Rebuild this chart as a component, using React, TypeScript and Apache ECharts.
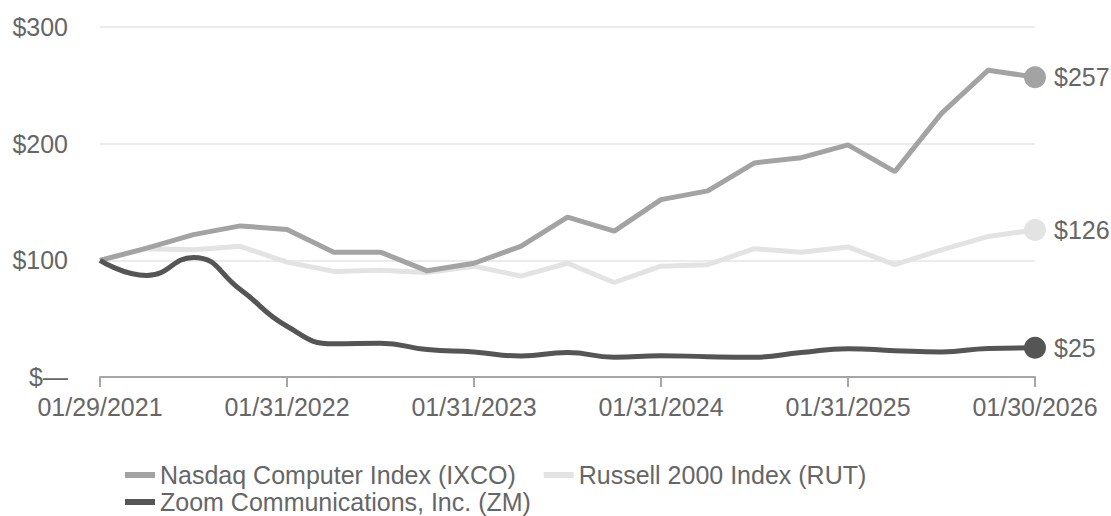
import React, { useEffect, useRef } from "react";
import * as echarts from "echarts";

const categories = [
  "01/29/2021", "04/30/2021", "07/30/2021", "10/29/2021",
  "01/31/2022", "04/29/2022", "07/29/2022", "10/31/2022",
  "01/31/2023", "04/28/2023", "07/31/2023", "10/31/2023",
  "01/31/2024", "04/30/2024", "07/31/2024", "10/31/2024",
  "01/31/2025", "04/30/2025", "07/31/2025", "10/31/2025",
  "01/30/2026",
];
const labelDates = ["01/29/2021", "01/31/2022", "01/31/2023", "01/31/2024", "01/31/2025", "01/30/2026"];

const nasdaq = [100, 110.5, 122, 129.5, 126.5, 107, 107, 91, 97.5, 112, 137, 125, 152, 159.5, 183.5, 188, 199, 176, 226, 263, 257];
const russell = [100, 110, 109, 112, 98.5, 90.5, 91.5, 89.5, 95, 86.5, 97.5, 81, 95, 96.3, 110, 107, 111.5, 96.3, 109, 120.5, 126];
const zoom = [100, 87, 102.5, 75, 43.5, 28.5, 29, 23.5, 21.5, 18, 21, 17, 18.3, 17.4, 17, 21, 24.3, 22.6, 21.4, 24.5, 25];

const yTicks = [0, 100, 200, 300];
const yTickLabels = ["$—", "$100", "$200", "$300"];

const NAMES = ["Nasdaq Computer Index (IXCO)", "Russell 2000 Index (RUT)", "Zoom Communications, Inc. (ZM)"];
const COLORS = ["#a3a3a3", "#e3e3e3", "#555555"];

const FONT = "'Liberation Sans', Arial, Helvetica, sans-serif";
const TEXT = "#666666";

function buildData(values: number[], color: string) {
  return values.map((v, i) => {
    if (i === values.length - 1) {
      return {
        value: v,
        symbol: "circle",
        symbolSize: 22,
        itemStyle: { color },
        label: {
          show: true,
          position: "right",
          distance: 8,
          formatter: "$" + Math.round(v),
          fontSize: 25,
          fontFamily: FONT,
          color: TEXT,
        },
      };
    }
    return { value: v, symbol: "none" };
  });
}

export default function App() {
  const ref = useRef<HTMLDivElement>(null);
  useEffect(() => {
    document.body.style.margin = "0";
    if (!ref.current) return;
    const chart = echarts.init(ref.current, undefined, { renderer: "svg" });
    const series = [
      { name: NAMES[1], values: russell, color: COLORS[1], smooth: false, z: 2 },
      { name: NAMES[0], values: nasdaq, color: COLORS[0], smooth: false, z: 3 },
      { name: NAMES[2], values: zoom, color: COLORS[2], smooth: true, z: 4 },
    ].map((s) => ({
      name: s.name,
      type: "line",
      smooth: s.smooth,
      z: s.z,
      showSymbol: true,
      lineStyle: { color: s.color, width: 5 },
      itemStyle: { color: s.color },
      data: buildData(s.values, s.color),
    }));

    const legendText = { fontSize: 25, color: TEXT, fontFamily: FONT, lineHeight: 26 };
    chart.setOption({
      animation: false,
      backgroundColor: "#ffffff",
      color: COLORS,
      textStyle: { fontFamily: FONT },
      grid: { left: 100, right: 76, top: 27, bottom: 139, containLabel: false },
      legend: [
        {
          data: [NAMES[0], NAMES[1]],
          left: 125,
          top: 462,
          padding: 0,
          icon: "rect",
          itemWidth: 30,
          itemHeight: 6,
          itemGap: 28,
          textStyle: legendText,
          selectedMode: false,
        },
        {
          data: [NAMES[2]],
          left: 125,
          top: 489,
          padding: 0,
          icon: "rect",
          itemWidth: 30,
          itemHeight: 6,
          textStyle: legendText,
          selectedMode: false,
        },
      ],
      xAxis: {
        type: "category",
        data: categories,
        boundaryGap: false,
        axisLine: { show: true, lineStyle: { color: "#a6a6a6", width: 2 } },
        axisTick: {
          show: true,
          length: 10,
          lineStyle: { color: "#a6a6a6", width: 2 },
          interval: (i: number, v: string) => labelDates.includes(v),
        },
        axisLabel: {
          interval: (i: number, v: string) => labelDates.includes(v),
          margin: 17,
          fontSize: 25,
          color: TEXT,
          fontFamily: FONT,
        },
        splitLine: { show: false },
      },
      yAxis: {
        type: "value",
        min: 0,
        max: 300,
        interval: 100,
        axisLine: { show: false },
        axisTick: { show: false },
        axisLabel: {
          margin: 32,
          fontSize: 25,
          color: TEXT,
          fontFamily: FONT,
          formatter: (v: number) => yTickLabels[yTicks.indexOf(v)] ?? "",
        },
        splitLine: { show: true, lineStyle: { color: "#ebebeb", width: 2 } },
      },
      series,
    });
    return () => chart.dispose();
  }, []);
  return <div ref={ref} style={{ width: 1111, height: 516 }} />;
}
